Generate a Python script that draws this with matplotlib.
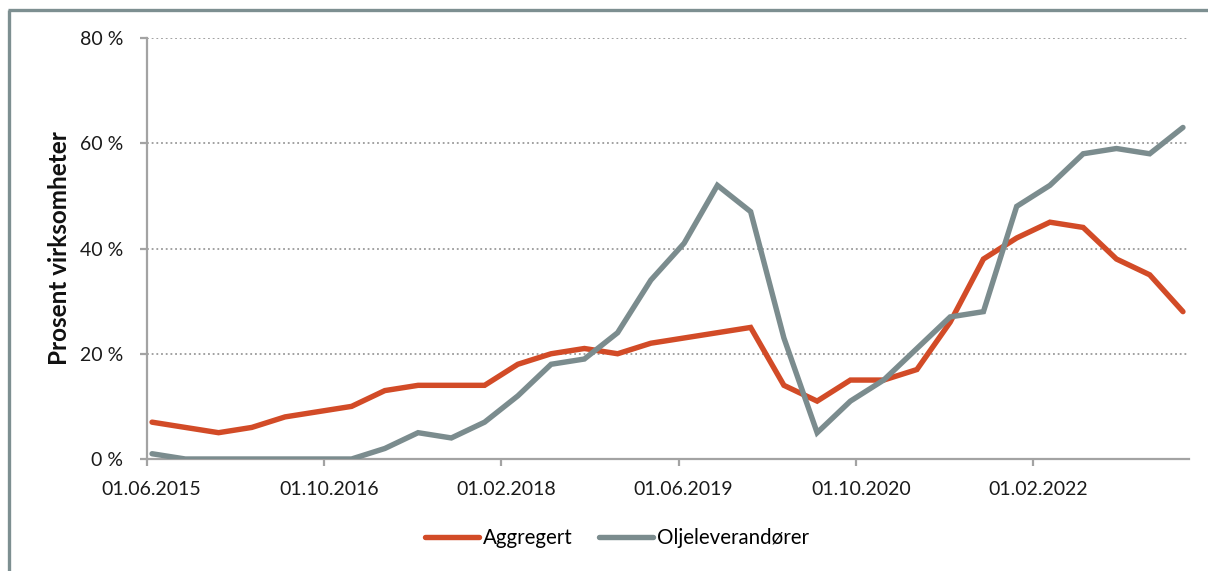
import matplotlib
matplotlib.use("Agg")
import matplotlib.pyplot as plt
import matplotlib.transforms as mtransforms
from matplotlib.lines import Line2D
import pandas as pd

plt.rcParams['font.family'] = ['Lato', 'DejaVu Sans']

# Quarterly observation dates (month.year)
dates = ["06.2015", "09.2015", "12.2015", "03.2016", "06.2016", "09.2016", "12.2016", "03.2017",
         "06.2017", "09.2017", "12.2017", "03.2018", "06.2018", "09.2018", "12.2018", "03.2019",
         "06.2019", "09.2019", "12.2019", "03.2020", "06.2020", "09.2020", "12.2020", "03.2021",
         "06.2021", "09.2021", "12.2021", "03.2022", "06.2022", "09.2022", "12.2022", "03.2023"]

aggregert = [7, 6, 5, 6, 8, 9, 10, 13, 14, 14, 14, 18, 20, 21, 20, 22,
             23, 24, 25, 14, 11, 15, 15, 17, 26, 38, 42, 45, 44, 38, 35, 28]

oljeleverandorer = [1, 0, 0, 0, 0, 0, 0, 2, 5, 4, 7, 12, 18, 19, 24, 34,
                    41, 52, 47, 23, 5, 11, 15, 21, 27, 28, 48, 52, 58, 59, 58, 63]

tick_labels = ["01.06.2015", "01.10.2016", "01.02.2018", "01.06.2019", "01.10.2020", "01.02.2022"]
y_ticks = [0, 20, 40, 60, 80]

series_names = ["Aggregert", "Oljeleverandører"]
colors = ["#d24b27", "#7b8c8e"]

start = pd.Timestamp("2015-06-01")


def month_offset(ts):
    return (ts.year - start.year) * 12 + (ts.month - start.month)


x = [month_offset(pd.to_datetime(d, format="%m.%Y")) + 0.5 for d in dates]
tick_x = [month_offset(pd.to_datetime(t, format="%d.%m.%Y")) for t in tick_labels]

W, H = 1208, 571
fig = plt.figure(figsize=(W / 100, H / 100), dpi=100)
ax = fig.add_axes([146.5 / W, 1 - 459 / H, (1188.5 - 146.5) / W, (459 - 38) / H])

for vals, name, c in zip([aggregert, oljeleverandorer], series_names, colors):
    ax.plot(x, vals, color=c, lw=3.9, solid_joinstyle='miter', solid_capstyle='round',
            label=name, zorder=3)

ax.set_xlim(0, x[-1] + 0.5)
ax.set_ylim(0, 80)

ax.set_yticks(y_ticks)
ax.set_yticklabels([f"{v} %" for v in y_ticks])
ax.set_xticks(tick_x)
ax.set_xticklabels(tick_labels)

for v in y_ticks[1:]:
    ax.axhline(v, color="#9a9a9a", lw=1.3, ls=(0, (1, 1.6)), zorder=1)

for side in ["top", "right"]:
    ax.spines[side].set_visible(False)
for side in ["left", "bottom"]:
    ax.spines[side].set_color("#a3a3a3")
    ax.spines[side].set_linewidth(1.6)

ax.tick_params(axis='both', colors="#a3a3a3", length=5, width=1.6, labelsize=14,
               labelcolor="#1a1a1a")
ax.tick_params(axis='y', pad=12)
ax.tick_params(axis='x', pad=11)

offset = mtransforms.ScaledTranslation(5 / 100, 0, fig.dpi_scale_trans)
for lbl in ax.get_xticklabels():
    lbl.set_transform(lbl.get_transform() + offset)

ax.set_ylabel("Prosent virksomheter", fontsize=17.5, fontweight='bold', color="#111111")
ax.yaxis.set_label_coords(60 / W, 1 - 248.5 / H, transform=fig.transFigure)
ax.yaxis.label.set_verticalalignment('center')

handles = [Line2D([0], [0], color=c, lw=3.9, solid_capstyle='round') for c in colors]
fig.legend(handles, series_names, loc='center', bbox_to_anchor=(617 / W, 1 - 538 / H),
           ncol=2, frameon=False, fontsize=14.8, handlelength=2.6, handletextpad=0.2,
           columnspacing=1.3)

# Partial frame (top and left)
fig.add_artist(Line2D([9 / W, 9 / W], [0, 1 - 10 / H], transform=fig.transFigure,
                      color="#7d8f91", lw=2.4, solid_capstyle='butt'))
fig.add_artist(Line2D([8 / W, 1], [1 - 10 / H, 1 - 10 / H], transform=fig.transFigure,
                      color="#7d8f91", lw=2.4, solid_capstyle='butt'))

fig.savefig("out.png", dpi=100)
